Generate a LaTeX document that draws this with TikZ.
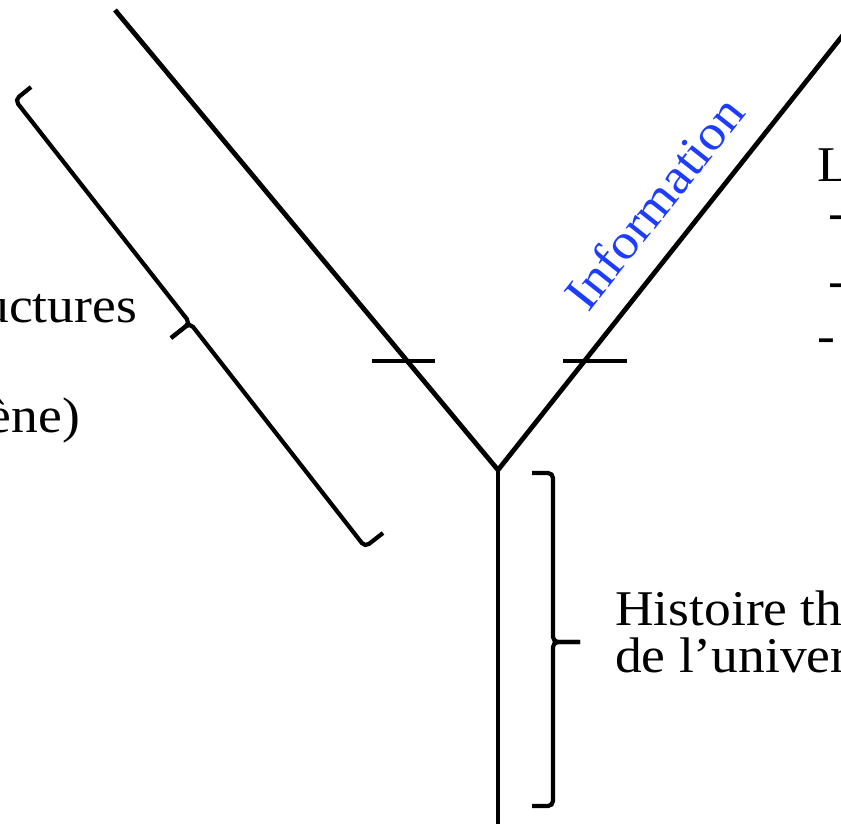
\documentclass[tikz,border=0pt]{standalone}
\usepackage{fontspec}
\setmainfont[FakeStretch=1.07]{Liberation Serif}
\definecolor{infoblue}{RGB}{28,60,255}
\begin{document}
\begin{tikzpicture}[x=1pt,y=-1pt,
  stroke/.style={line width=4.8pt},
  brack/.style={line width=4.2pt, rounded corners=5pt},
  txt/.style={inner sep=0pt, font=\fontsize{50}{60}\selectfont},
]
\useasboundingbox (0,0) rectangle (841,824);
\clip (0,0) rectangle (841,824);
% main Y
\coordinate (J) at (498,470);
\coordinate (TL) at (115,10);
\coordinate (TR) at (870,1);
\coordinate (B) at (498,840);
\draw[stroke] (TL) -- (J) -- (TR);
\draw[stroke] (J) -- (B);
% ticks
\coordinate (t1a) at (372,361);
\coordinate (t1b) at (435,361);
\coordinate (t2a) at (563,361);
\coordinate (t2b) at (627,361);
\draw[stroke] (t1a) -- (t1b);
\draw[stroke] (t2a) -- (t2b);
% right brace
\coordinate (rb1) at (532,473);
\coordinate (rb2) at (553,473);
\coordinate (rbm) at (553,642);
\coordinate (rbt) at (580,642);
\coordinate (rb3) at (553,806);
\coordinate (rb4) at (532,806);
\draw[brack] (rb1) -- (rb2) -- (rbm) -- (rbt);
\draw[brack] (rbt) -- (rbm) -- (rb3) -- (rb4);
% left bracket
\coordinate (lb1) at (31,87);
\coordinate (lb2) at (15,100);
\coordinate (lbm) at (190,323);
\coordinate (lbt) at (171,338);
\coordinate (lb3) at (365,547);
\coordinate (lb4) at (383,533);
\draw[brack] (lb1) -- (lb2) -- (lbm) -- (lbt);
\draw[brack] (lbt) -- (lbm) -- (lb3) -- (lb4);
% texts
\node[txt, text=infoblue, rotate=51.6, anchor=base west] (info) at (588,314) {Information};
\node[txt, anchor=base east] (struct) at (137,322) {uctures};
\node[txt, anchor=base east] (ene) at (80,432) {ène)};
\node[txt, anchor=base west] (hist1) at (615,625) {Histoire th};
\node[txt, anchor=base west] (hist2) at (615,672) {de l’univers};
\node[txt, anchor=base west] (L) at (817,182) {L};
\node[txt, anchor=base west] (d1) at (828,229) {-};
\node[txt, anchor=base west] (d2) at (828,297) {-};
\node[txt, anchor=base west] (d3) at (817,352) {-};
\end{tikzpicture}
\end{document}
